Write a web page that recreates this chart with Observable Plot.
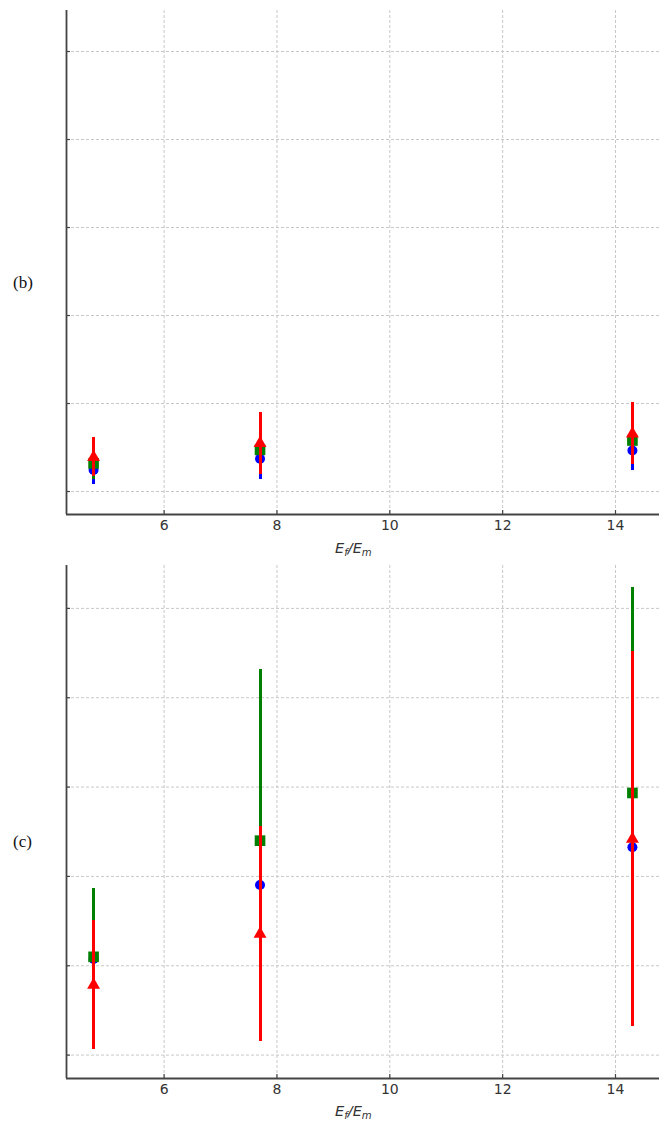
<!DOCTYPE html>
<html>
<head>
<meta charset="utf-8">
<script src="https://cdn.jsdelivr.net/npm/d3@7"></script>
<script src="https://cdn.jsdelivr.net/npm/@observablehq/plot@0.6"></script>
<style>
  html, body { margin: 0; padding: 0; background: #fff; }
  #wrap { position: relative; width: 662px; height: 1121px; overflow: hidden; background: #fff; }
  .panel { position: absolute; left: 0; }
  .tag { position: absolute; font-family: "Liberation Serif", "DejaVu Serif", serif; font-size: 17px; color: #111; line-height: 17px; }
  .xlab { position: absolute; font-family: "DejaVu Sans", sans-serif; font-style: italic; font-size: 14.5px; line-height: 14px; color: #333; white-space: nowrap; }
  .xlab sub { font-size: 70%; vertical-align: -0.3em; line-height: 0; }
</style>
</head>
<body>
<div id="wrap">
  <div class="panel" id="pb" style="top:0px"></div>
  <div class="panel" id="pc" style="top:560px"></div>
  <div class="tag" style="left:13px; top:274px">(b)</div>
  <div class="tag" style="left:13px; top:833px">(c)</div>
  <div class="xlab" style="left:335px; top:541px">E<sub>f</sub>/E<sub>m</sub></div>
  <div class="xlab" style="left:335px; top:1104px">E<sub>f</sub>/E<sub>m</sub></div>
</div>
<script>
// ---- data ----
const xVals = [4.75, 7.7, 14.3];
const xTicks = [6, 8, 10, 12, 14];
const yTicks = [0, 1, 2, 3, 4, 5];

// panel (b)
const bBlue = [0.245, 0.372, 0.466];
const bBlueErr = [0.16, 0.24, 0.23];
const bGreen = [0.32, 0.474, 0.58];
const bGreenErr = [0.18, 0.265, 0.265];
const bRed = [0.39, 0.549, 0.656];
const bRedErr = [0.22, 0.35, 0.35];

// panel (c)
const cBlue = [1.075, 1.904, 2.326];
const cBlueErr = [0.6, 1.2, 1.9];
const cGreen = [1.10, 2.40, 2.934];
const cGreenErr = [0.765, 1.92, 2.30];
const cRed = [0.784, 1.355, 2.419];
const cRedErr = [0.72, 1.20, 2.10];

const xDomain = [4.27, 14.78];

function rows(vals, errs) {
  return xVals.map((x, i) => ({x, y: vals[i], lo: vals[i] - errs[i], hi: vals[i] + errs[i]}));
}

function panel({series, yDomain, height, marginTop, marginBottom}) {
  const width = 662, marginLeft = 66, marginRight = 3;
  const plotW = width - marginLeft - marginRight;
  const plotH = height - marginTop - marginBottom;
  const marks = [
    Plot.gridX(xTicks, {stroke: "#c8c8c8", strokeOpacity: 1, strokeDasharray: "3,2", strokeWidth: 1}),
    Plot.gridY(yTicks, {stroke: "#c8c8c8", strokeOpacity: 1, strokeDasharray: "3,2", strokeWidth: 1}),
  ];
  for (const s of series) {
    const r = rows(s.vals, s.errs);
    marks.push(Plot.ruleX(r, {x: "x", y1: "lo", y2: "hi", stroke: s.color, strokeWidth: 3, shapeRendering: "crispEdges"}));
    marks.push(Plot.dot(r, {x: "x", y: "y", symbol: s.symbol, r: s.r, fill: s.color, stroke: "none"}));
  }
  marks.push(
    Plot.tickX(xTicks, {x: d => d, insetTop: plotH - 4, stroke: "#444", strokeWidth: 1.2}),
    Plot.tickY(yTicks, {y: d => d, insetRight: plotW - 4, stroke: "#444", strokeWidth: 1.2}),
    Plot.ruleX([xDomain[0]], {stroke: "#444", strokeWidth: 1.8}),
    Plot.ruleY([yDomain[0]], {stroke: "#444", strokeWidth: 1.8}),
    Plot.axisX(xTicks, {tickSize: 0, tickPadding: 6, label: null, fontSize: 14, fill: "#333"})
  );
  return Plot.plot({
    width, height, marginLeft, marginRight, marginTop, marginBottom,
    x: {domain: xDomain},
    y: {domain: yDomain, axis: null},
    style: {fontFamily: "DejaVu Sans, sans-serif", fontSize: "14px", color: "#333", background: "white", overflow: "visible"},
    marks
  });
}

const blueSpec = {color: "#0000ff", symbol: "circle", r: 5};
const greenSpec = {color: "#008000", symbol: "square", r: 6};
const redSpec = {color: "#ff0000", symbol: "triangle", r: 4.8};

document.getElementById("pb").append(panel({
  series: [
    {...blueSpec, vals: bBlue, errs: bBlueErr},
    {...greenSpec, vals: bGreen, errs: bGreenErr},
    {...redSpec, vals: bRed, errs: bRedErr}
  ],
  yDomain: [-0.261, 5.466], height: 560, marginTop: 10, marginBottom: 46
}));

document.getElementById("pc").append(panel({
  series: [
    {...blueSpec, vals: cBlue, errs: cBlueErr},
    {...greenSpec, vals: cGreen, errs: cGreenErr},
    {...redSpec, vals: cRed, errs: cRedErr}
  ],
  yDomain: [-0.262, 5.48], height: 561, marginTop: 5, marginBottom: 43
}));
</script>
</body>
</html>
